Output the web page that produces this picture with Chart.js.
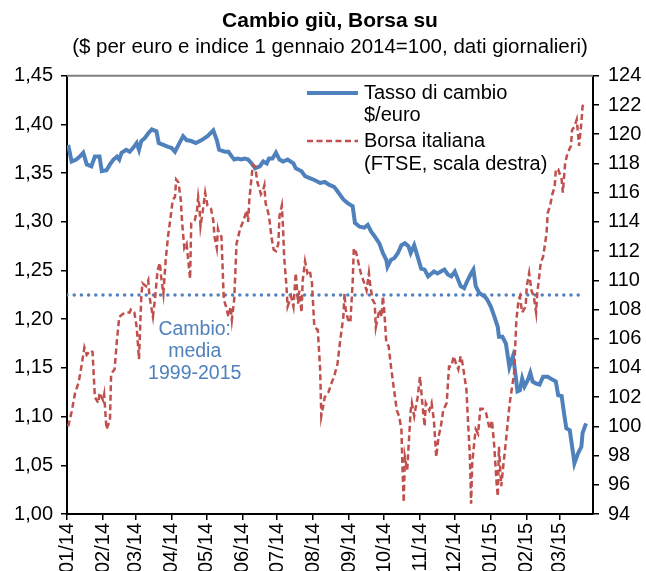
<!DOCTYPE html>
<html>
<head>
<meta charset="utf-8">
<title>Cambio giù, Borsa su</title>
<script src="https://cdn.jsdelivr.net/npm/chart.js@4.4.1/dist/chart.umd.min.js"></script>
<style>
  body { margin: 0; background: #fff; }
  #wrap { width: 646px; height: 571px; }
</style>
</head>
<body>
<div id="wrap"><canvas id="chart" width="646" height="571"></canvas></div>
<script>
// Days counted from 1 Jan 2014 (day 0)
const fxDays = [1, 4, 8, 11, 14, 17, 21, 24, 28, 30, 34, 37, 40, 43, 45, 47, 51, 54, 57, 60, 62, 64, 67, 70, 73, 77, 79, 83, 87, 90, 93, 96, 100, 103, 107, 111, 116, 121, 126, 129, 131, 136, 139, 142, 144, 147, 150, 153, 156, 159, 162, 166, 169, 172, 174, 177, 180, 183, 186, 190, 195, 197, 202, 205, 209, 213, 218, 222, 226, 230, 232, 238, 242, 246, 248, 252, 256, 259, 262, 265, 269, 272, 275, 276, 279, 282, 285, 288, 291, 294, 296, 299, 302, 305, 308, 311, 314, 316, 319, 322, 325, 328, 331, 334, 337, 339, 342, 345, 348, 350, 352, 355, 360, 362, 365, 368, 371, 372, 375, 378, 381, 384, 385, 388, 390, 392, 394, 397, 399, 401, 404, 407, 410, 414, 418, 421, 423, 426, 428, 430, 433, 436, 437, 440, 443, 444, 447];
const fxValues = [1.379, 1.362, 1.364, 1.367, 1.371, 1.359, 1.357, 1.367, 1.367, 1.352, 1.353, 1.359, 1.364, 1.367, 1.364, 1.371, 1.374, 1.372, 1.376, 1.381, 1.374, 1.383, 1.386, 1.391, 1.395, 1.393, 1.381, 1.379, 1.377, 1.376, 1.372, 1.379, 1.388, 1.384, 1.383, 1.381, 1.384, 1.388, 1.394, 1.384, 1.374, 1.372, 1.372, 1.367, 1.364, 1.365, 1.364, 1.365, 1.364, 1.360, 1.355, 1.357, 1.362, 1.360, 1.365, 1.365, 1.371, 1.364, 1.362, 1.364, 1.360, 1.355, 1.352, 1.347, 1.345, 1.343, 1.340, 1.341, 1.338, 1.336, 1.333, 1.323, 1.319, 1.316, 1.299, 1.295, 1.294, 1.297, 1.290, 1.285, 1.278, 1.268, 1.261, 1.254, 1.261, 1.263, 1.268, 1.276, 1.278, 1.275, 1.268, 1.276, 1.264, 1.252, 1.251, 1.244, 1.247, 1.249, 1.247, 1.249, 1.251, 1.246, 1.244, 1.249, 1.240, 1.234, 1.232, 1.240, 1.247, 1.251, 1.234, 1.227, 1.223, 1.220, 1.213, 1.203, 1.192, 1.182, 1.182, 1.175, 1.151, 1.162, 1.155, 1.126, 1.127, 1.139, 1.131, 1.138, 1.145, 1.136, 1.134, 1.133, 1.141, 1.141, 1.138, 1.136, 1.122, 1.121, 1.104, 1.088, 1.086, 1.061, 1.052, 1.062, 1.069, 1.083, 1.093];

const ftseDays = [1, 4, 7, 10, 12, 15, 17, 20, 22, 24, 27, 28, 31, 32, 34, 37, 38, 41, 43, 45, 50, 54, 55, 58, 60, 62, 64, 65, 68, 70, 71, 74, 76, 78, 80, 81, 83, 85, 87, 90, 91, 93, 94, 96, 98, 99, 101, 103, 106, 107, 110, 112, 113, 114, 115, 117, 119, 121, 124, 126, 127, 129, 130, 131, 133, 134, 135, 137, 139, 141, 142, 144, 146, 149, 152, 154, 155, 156, 157, 159, 160, 162, 164, 167, 169, 170, 171, 174, 176, 178, 180, 182, 183, 185, 186, 187, 189, 190, 193, 195, 197, 199, 200, 202, 203, 205, 207, 209, 211, 213, 216, 218, 219, 222, 225, 228, 230, 233, 235, 238, 239, 240, 242, 244, 246, 247, 249, 251, 253, 256, 258, 260, 261, 263, 265, 266, 269, 271, 272, 273, 275, 277, 279, 284, 286, 288, 289, 290, 291, 293, 294, 296, 297, 299, 301, 302, 304, 306, 308, 309, 312, 314, 316, 318, 320, 322, 324, 327, 329, 331, 333, 335, 337, 339, 340, 342, 344, 345, 347, 348, 349, 351, 352, 354, 356, 358, 361, 364, 366, 368, 370, 371, 372, 374, 376, 377, 379, 381, 382, 385, 387, 389, 390, 392, 395, 396, 398, 400, 402, 404, 405, 408, 410, 413, 414, 416, 418, 420, 421, 423, 426, 427, 429, 431, 434, 435, 437, 439, 441, 443, 444, 445];
const ftseValues = [100.0, 101.0, 102.3, 103.0, 103.9, 105.4, 104.9, 105.2, 105.1, 102.0, 101.6, 102.3, 101.8, 102.2, 99.8, 100.4, 103.6, 103.9, 105.9, 107.5, 107.8, 107.8, 108.0, 107.8, 106.8, 104.6, 108.9, 109.8, 109.6, 110.0, 108.9, 107.5, 108.9, 110.7, 111.2, 110.3, 109.1, 111.4, 113.0, 114.8, 115.5, 115.7, 116.9, 116.7, 115.5, 114.1, 112.2, 112.5, 110.1, 113.9, 114.1, 114.8, 115.7, 115.1, 113.7, 114.8, 116.0, 115.1, 114.9, 114.1, 113.0, 112.2, 113.5, 113.2, 113.0, 110.9, 108.7, 108.2, 107.5, 108.2, 107.3, 108.7, 112.5, 113.5, 114.1, 114.6, 114.8, 114.0, 115.5, 117.1, 117.9, 117.8, 116.7, 115.9, 116.2, 116.5, 115.3, 114.4, 113.0, 112.1, 112.0, 112.5, 114.4, 115.1, 113.7, 111.6, 109.6, 108.2, 108.9, 108.2, 110.5, 108.4, 109.3, 107.8, 110.0, 111.3, 110.5, 110.7, 109.8, 106.8, 106.6, 103.9, 100.7, 102.0, 102.3, 103.0, 103.4, 104.3, 105.7, 107.5, 109.1, 108.0, 107.3, 107.1, 109.8, 112.2, 111.9, 111.2, 110.5, 109.8, 109.3, 110.5, 109.8, 108.7, 108.4, 106.8, 108.0, 107.5, 108.9, 108.2, 105.7, 105.5, 104.1, 101.1, 100.7, 99.8, 97.0, 94.8, 97.9, 97.0, 98.4, 101.1, 101.6, 100.7, 101.6, 102.0, 103.4, 101.6, 100.0, 101.6, 101.1, 101.6, 100.4, 97.9, 99.3, 100.0, 101.1, 101.6, 104.1, 104.1, 104.8, 104.3, 103.9, 104.8, 104.6, 103.6, 102.5, 100.9, 97.9, 94.7, 97.5, 99.1, 99.8, 99.5, 101.2, 101.2, 100.9, 99.8, 100.4, 98.6, 96.1, 95.2, 98.6, 95.9, 97.5, 98.2, 99.8, 101.4, 102.0, 103.6, 107.3, 108.7, 108.9, 107.8, 108.2, 109.6, 110.5, 109.3, 108.9, 107.8, 109.1, 111.2, 111.6, 113.2, 114.6, 115.1, 115.9, 116.4, 117.6, 117.6, 116.9, 116.0, 118.0, 118.7, 119.2, 120.3, 120.5, 121.0, 119.2, 120.8, 121.9, 122.1];

// Cambio: media 1999-2015
const meanValue = 1.225;
const meanDays = [0, 444];

const leftTicks = [1.00, 1.05, 1.10, 1.15, 1.20, 1.25, 1.30, 1.35, 1.40, 1.45];
const rightTicks = [94, 96, 98, 100, 102, 104, 106, 108, 110, 112, 114, 116, 118, 120, 122, 124];
const monthLabels = ['01/14', '02/14', '03/14', '04/14', '05/14', '06/14', '07/14', '08/14', '09/14', '10/14', '11/14', '12/14', '01/15', '02/15', '03/15'];

const FONT = 'Arial, "Liberation Sans", sans-serif';
const BLUE = '#4F81BD';
const RED = '#C0504D';

// day index of the first of each month in monthLabels
function monthStart(label) {
    const m = parseInt(label.slice(0, 2), 10) - 1;
    const y = 2000 + parseInt(label.slice(3), 10);
    return Math.round((Date.UTC(y, m, 1) - Date.UTC(2014, 0, 1)) / 86400000);
}
const monthDays = monthLabels.map(monthStart);

function toPoints(xs, ys) {
    return xs.map((x, i) => ({ x: x, y: ys[i] }));
}

// gray top border + legend + text note
const extras = {
    id: 'extras',
    afterDraw(chart) {
        const ctx = chart.ctx;
        const area = chart.chartArea;
        ctx.save();

        ctx.strokeStyle = '#7F7F7F';
        ctx.lineWidth = 2;
        ctx.beginPath();
        ctx.moveTo(area.left, area.top);
        ctx.lineTo(area.right, area.top);
        ctx.stroke();

        // legend
        ctx.font = '20px ' + FONT;
        ctx.textBaseline = 'middle';
        ctx.fillStyle = '#000';
        ctx.lineCap = 'butt';

        ctx.strokeStyle = BLUE;
        ctx.lineWidth = 4;
        ctx.beginPath();
        ctx.moveTo(307, 93);
        ctx.lineTo(358, 93);
        ctx.stroke();
        ctx.fillText('Tasso di cambio', 364, 93);
        ctx.fillText('$/euro', 364, 115);

        ctx.strokeStyle = RED;
        ctx.lineWidth = 2.5;
        ctx.setLineDash([6, 3.5]);
        ctx.beginPath();
        ctx.moveTo(307, 141);
        ctx.lineTo(358, 141);
        ctx.stroke();
        ctx.setLineDash([]);
        ctx.fillText('Borsa italiana', 364, 141);
        ctx.fillText('(FTSE, scala destra)', 364, 164);

        // note under the mean line
        const xs = chart.scales.x;
        const ys = chart.scales.y;
        const cx = xs.getPixelForValue(110);
        const cy = ys.getPixelForValue(1.189);
        ctx.font = '19.5px ' + FONT;
        ctx.fillStyle = BLUE;
        ctx.textAlign = 'center';
        ctx.fillText('Cambio:', cx, cy);
        ctx.fillText('media', cx, cy + 22);
        ctx.fillText('1999-2015', cx, cy + 44);

        ctx.restore();
    }
};

const axisGrid = {
    drawOnChartArea: false,
    drawTicks: true,
    tickLength: 6,
    color: '#000',
    lineWidth: 1.5
};
const axisBorder = { display: true, color: '#000', width: 2 };

new Chart(document.getElementById('chart'), {
    type: 'line',
    data: {
        datasets: [
            {
                label: 'Borsa italiana (FTSE, scala destra)',
                data: toPoints(ftseDays, ftseValues),
                yAxisID: 'y1',
                borderColor: RED,
                borderWidth: 2.5,
                borderDash: [6, 3.5],
                pointRadius: 0,
                tension: 0
            },
            {
                label: 'Tasso di cambio $/euro',
                data: toPoints(fxDays, fxValues),
                yAxisID: 'y',
                borderColor: BLUE,
                borderWidth: 4,
                pointRadius: 0,
                tension: 0
            },
            {
                label: 'Cambio: media 1999-2015',
                data: meanDays.map(d => ({ x: d, y: meanValue })),
                yAxisID: 'y',
                borderColor: BLUE,
                borderWidth: 3.5,
                borderDash: [0, 7.2],
                borderCapStyle: 'round',
                pointRadius: 0
            }
        ]
    },
    options: {
        responsive: false,
        animation: false,
        layout: { padding: 0 },
        plugins: {
            legend: { display: false },
            tooltip: { enabled: false },
            title: {
                display: true,
                fullSize: false,
                text: 'Cambio giù, Borsa su',
                color: '#000',
                font: { family: FONT, size: 21, weight: 'bold' },
                padding: { top: 9, bottom: 1 }
            },
            subtitle: {
                display: true,
                fullSize: false,
                text: '($ per euro e indice 1 gennaio 2014=100, dati giornalieri)',
                color: '#000',
                font: { family: FONT, size: 20.5 },
                padding: { top: 0, bottom: 16 }
            }
        },
        scales: {
            x: {
                type: 'linear',
                min: 0,
                max: 453,
                afterBuildTicks: s => { s.ticks = monthDays.map(v => ({ value: v })); },
                afterFit: s => { s.height = 57; },
                grid: axisGrid,
                border: axisBorder,
                ticks: {
                    autoSkip: false,
                    minRotation: 90,
                    maxRotation: 90,
                    padding: 3,
                    color: '#000',
                    font: { family: FONT, size: 20 },
                    callback: v => monthLabels[monthDays.indexOf(v)]
                }
            },
            y: {
                position: 'left',
                min: 1.0,
                max: 1.45,
                afterBuildTicks: s => { s.ticks = leftTicks.map(v => ({ value: v })); },
                afterFit: s => { s.width = 67; },
                grid: axisGrid,
                border: axisBorder,
                ticks: {
                    padding: 8,
                    color: '#000',
                    font: { family: FONT, size: 20 },
                    callback: v => v.toFixed(2).replace('.', ',')
                }
            },
            y1: {
                position: 'right',
                min: 94,
                max: 124,
                afterBuildTicks: s => { s.ticks = rightTicks.map(v => ({ value: v })); },
                afterFit: s => { s.width = 53; },
                grid: axisGrid,
                border: axisBorder,
                ticks: {
                    padding: 9,
                    color: '#000',
                    font: { family: FONT, size: 20 }
                }
            }
        }
    },
    plugins: [extras]
});
</script>
</body>
</html>
